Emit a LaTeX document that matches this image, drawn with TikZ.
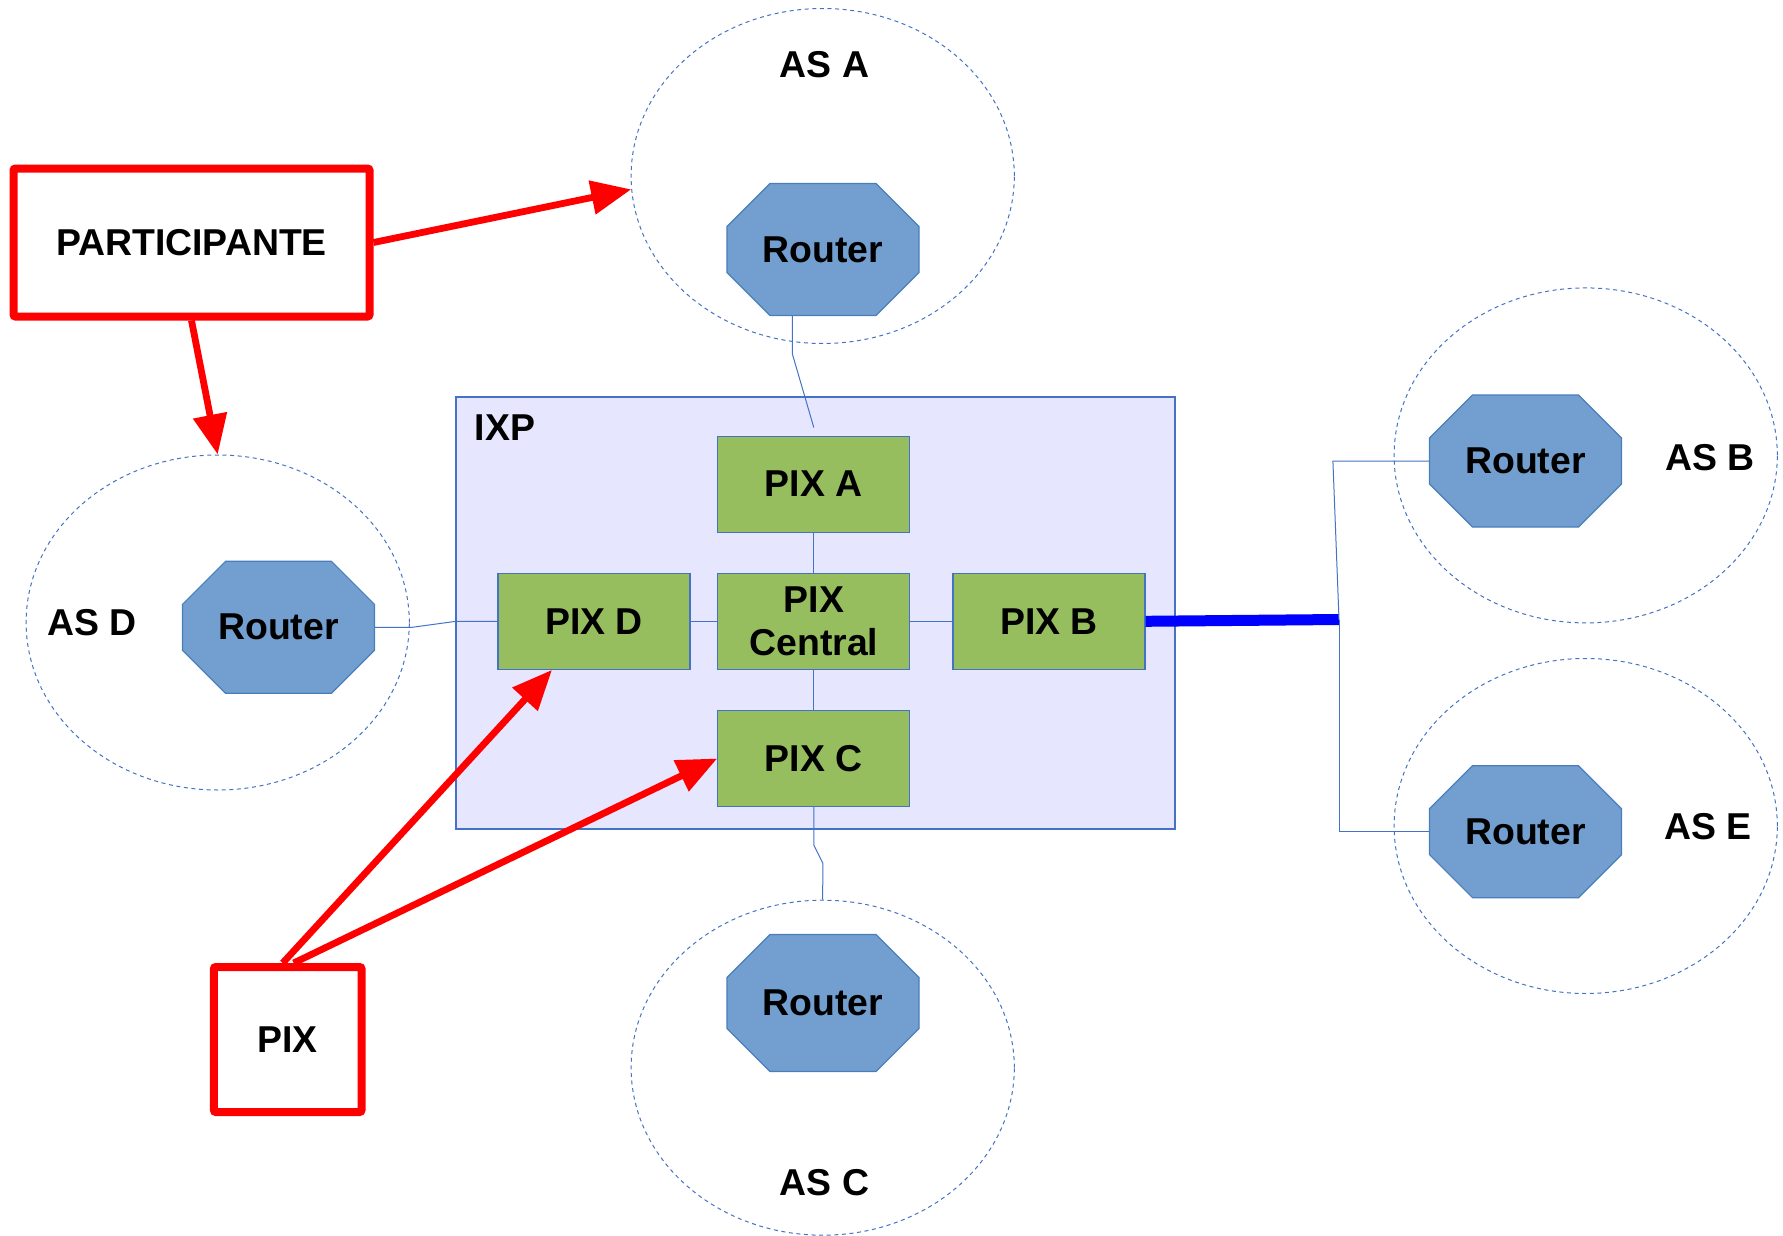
\documentclass[tikz,border=0pt]{standalone}
\usepackage{fontspec}
\setmainfont{Liberation Sans}
\usepackage{xcolor}
\usepackage{tikz}
\usetikzlibrary{positioning}
\usetikzlibrary{shapes.geometric}
\usetikzlibrary{shapes.misc}
\usetikzlibrary{arrows.meta}

\definecolor{routerblue}{HTML}{729FCF}
\definecolor{routeredge}{HTML}{4A7EBB}
\definecolor{pixgreen}{HTML}{96BE5E}
\definecolor{lineblue}{HTML}{4472C4}
\definecolor{ixpfill}{HTML}{E6E6FF}

\tikzstyle{asarea}=[ellipse, inner sep=0pt, minimum width=191.6pt, minimum height=167.5pt, draw=lineblue, line width=0.5pt, dash pattern=on 2pt off 1.8pt]
\tikzstyle{router}=[chamfered rectangle, chamfered rectangle xsep=15pt, chamfered rectangle ysep=15pt, inner sep=0pt, minimum width=96pt, minimum height=66pt, fill=routerblue, draw=routeredge, line width=0.6pt]
\tikzstyle{pixbox}=[rectangle, inner sep=0pt, minimum width=96pt, minimum height=48pt, fill=pixgreen, draw=lineblue, line width=0.6pt, align=center]
\tikzstyle{redbox}=[rectangle, draw=red, fill=white, line width=4pt, rounded corners=1pt]
\tikzstyle{redarrow}=[draw=red, line width=3.4pt, -{Triangle[length=20pt,width=16.5pt]}]
\tikzstyle{wire}=[draw=lineblue, line width=0.5pt]
\tikzstyle{trunk}=[draw=blue, line width=5.5pt]

\begin{document}
\begin{tikzpicture}[x=0.5pt, y=-0.5pt]
\bfseries\fontsize{18.7}{21.5}\selectfont
\useasboundingbox (0,0) rectangle (1783,1236);

% IXP
\node (ixp) 
	[rectangle, minimum width=359.5pt, minimum height=216pt, fill=ixpfill, draw=lineblue, line width=0.6pt] 
	at (815.5,613) {};
\node (ixplabel) 
	[anchor=west, inner sep=0pt] 
	at ([xshift=9.5pt,yshift=-15.5pt]ixp.north west) {IXP};

% AS areas
\node (asA) [asarea] at (822.7,176) {};
\node (asC) [asarea] at (822.7,1067.7) {};
\node (asD) [asarea] at (217.7,622.5) {};
\node (asB) [asarea] at (1585.7,455.4) {};
\node (asE) [asarea] at (1585.7,826) {};

\node (asAlabel) at (824.5,65) {AS A};
\node (asClabel) at (824.5,1182.6) {AS C};
\node (asDlabel) at (92,623) {AS D};
\node (asBlabel) at (1710,458) {AS B};
\node (asElabel) at (1708,827) {AS E};

% routers
\node (rA) [router] at (823,249.5) {Router};
\node (rC) [router, minimum height=68.5pt] at (823,1003) {Router};
\node (rD) [router] at (278.5,627.3) {Router};
\node (rB) [router] at (1525.5,461) {Router};
\node (rE) [router] at (1525.5,831.7) {Router};

% PIX
\node (pixCentral) [pixbox] at (813.8,621.3) {PIX\\Central};
\node (pixA) [pixbox, above=20pt of pixCentral] {PIX A};
\node (pixD) [pixbox, left=13.3pt of pixCentral] {PIX D};
\node (pixB) [pixbox, right=21pt of pixCentral] {PIX B};
\node (pixC) [pixbox, below=20pt of pixCentral] {PIX C};

\draw [wire] ([xshift=-15.3pt]rA.south) -- ++(0,38) -- ([yshift=4pt]pixA.north);
\draw [wire] (pixA.south) -- (pixCentral.north);
\draw [wire] (pixD.east) -- (pixCentral.west);
\draw [wire] (pixCentral.east) -- (pixB.west);
\draw [wire] (pixCentral.south) -- (pixC.north);
\draw [wire] (pixC.south) -- ++(0,38) -- ++(9,18) -- (asC.north);
\draw [wire] (rD.east) -- ++(37,0) -- ++(44,-6) -- (pixD.west);

\coordinate (hub) at (1339,619.5);
\draw [trunk] (pixB.east) -- (hub);
\draw [wire] (rB.west) -- ++(-96,0) -- (hub);
\draw [wire] (hub) |- (rE.west);

% participante / pix
\node (part) 
	[redbox, minimum width=178pt, minimum height=74pt] 
	at (191.5,242.5) {PARTICIPANTE};
\node (pix) 
	[redbox, minimum width=73.8pt, minimum height=72.5pt] 
	at (287.7,1039.5) {PIX};

\draw [redarrow] (part.east) -- (asA.184);
\draw [redarrow] (part.south) -- (asD.north);
\draw [redarrow] ([xshift=-2.5pt]pix.north) -- ([xshift=-21pt]pixD.south);
\draw [redarrow] ([xshift=3pt]pix.north) -- (pixC.west);
\end{tikzpicture}
\end{document}
